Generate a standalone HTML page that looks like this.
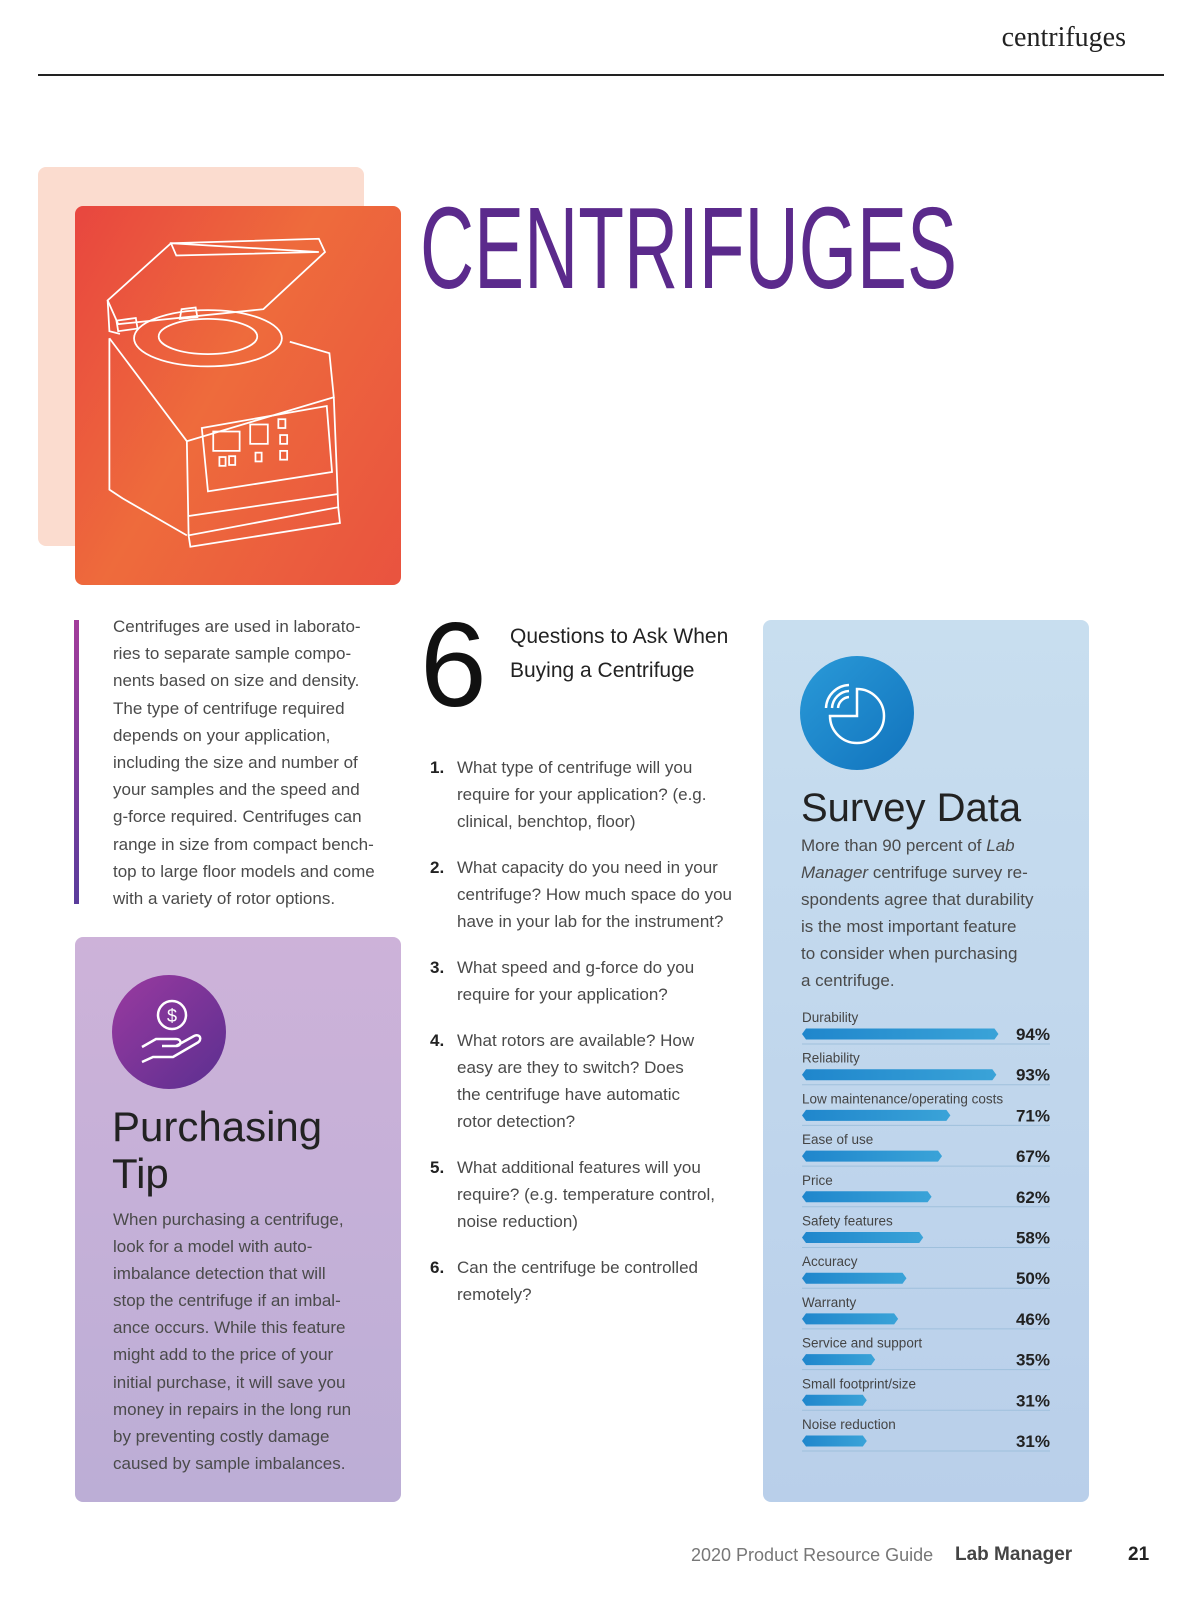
<!DOCTYPE html>
<html><head><meta charset="utf-8">
<style>
*{margin:0;padding:0;box-sizing:border-box}
body{width:1200px;height:1613px;position:relative;background:#fff;font-family:"Liberation Sans",sans-serif;color:#444;overflow:hidden}
.a{position:absolute}
.p{font-size:17px;line-height:27.2px;color:#4a4a4a;white-space:nowrap}
.q{font-size:17px;line-height:27px;color:#4a4a4a;white-space:nowrap}
.n{position:absolute;left:-27px;top:0;font-weight:bold;color:#222}
</style></head>
<body>
<div class="a" style="right:74px;top:22px;font-family:'Liberation Serif',serif;font-size:28px;color:#222">centrifuges</div>
<div class="a" style="left:38px;top:74px;width:1126px;height:2px;background:#222"></div>

<div class="a" style="left:38px;top:167px;width:326px;height:379px;background:#fbdccf;border-radius:8px"></div>
<div class="a" style="left:75px;top:206px;width:326px;height:379px;border-radius:8px;background:linear-gradient(120deg,#e8463f 0%,#ee6b3c 45%,#e9533f 100%);overflow:hidden">
<svg width="326" height="379" viewBox="0 0 326 379">
<g fill="none" stroke="#fff" stroke-width="2" transform="translate(8,2) scale(0.88)">
<polygon points="28,105 100,40 268,35 275,50 205,115 40,132"/>
<polygon points="100,40 106,54 268,50"/>
<polyline points="28,105 30,140 42,143"/>
<polygon points="40,140 38,128 60,125 62,137"/>
<polygon points="110,126 112,115 128,113 130,124"/>
<ellipse cx="142" cy="148" rx="84" ry="32"/>
<ellipse cx="142" cy="146" rx="56" ry="20"/>
<polyline points="30,148 118,265 285,215 280,165 235,152"/>
<polyline points="30,148 30,320 45,330 118,372"/>
<polyline points="118,265 120,372 290,340 285,215"/>
<polygon points="120,350 290,325"/>
<polyline points="120,372 122,385 292,358 290,340"/>
<polygon points="135,250 277,225 283,300 142,322"/>
<rect x="148" y="254" width="30" height="22"/>
<rect x="190" y="246" width="20" height="22"/>
<rect x="222" y="240" width="8" height="10"/>
<rect x="224" y="258" width="8" height="10"/>
<rect x="224" y="276" width="8" height="10"/>
<rect x="155" y="283" width="7" height="10"/><rect x="166" y="282" width="7" height="10"/>
<rect x="196" y="278" width="7" height="10"/>
</g></svg></div>

<svg class="a" style="left:415px;top:190px" width="560" height="120">
<text x="5" y="98" textLength="537" lengthAdjust="spacingAndGlyphs" font-family="Liberation Sans Narrow, Liberation Sans, sans-serif" font-size="116" fill="#5b2a8c">CENTRIFUGES</text></svg>

<div class="a" style="left:74px;top:620px;width:5px;height:284px;background:linear-gradient(#a33c9b,#5a3c9c)"></div>
<div class="a p" style="left:113px;top:613px">Centrifuges are used in laborato-<br>ries to separate sample compo-<br>nents based on size and density.<br>The type of centrifuge required<br>depends on your application,<br>including the size and number of<br>your samples and the speed and<br>g-force required. Centrifuges can<br>range in size from compact bench-<br>top to large floor models and come<br>with a variety of rotor options.</div>

<div class="a" style="left:75px;top:937px;width:326px;height:565px;border-radius:8px;background:linear-gradient(#cdb2d9,#bcaed6)"></div>
<div class="a" style="left:112px;top:975px;width:114px;height:114px;border-radius:50%;background:linear-gradient(135deg,#9a3aa0,#5b2f90)">
<svg width="114" height="114"><g fill="none" stroke="#fff" stroke-width="2.5"><circle cx="60" cy="40" r="14"/><path d="M30 72 l14-8 h20 c6 0 6 7 0 7 h-14 M64 71 l18-10 c6-3 9 4 3 7 l-24 14 h-20 l-11 5"/></g><text x="60" y="47" text-anchor="middle" font-size="18" fill="#fff" font-family="Liberation Sans">$</text></svg></div>
<div class="a" style="left:112px;top:1103px;font-size:42px;line-height:47px;color:#222">Purchasing<br>Tip</div>
<div class="a p" style="left:113px;top:1206px;line-height:27.1px">When purchasing a centrifuge,<br>look for a model with auto-<br>imbalance detection that will<br>stop the centrifuge if an imbal-<br>ance occurs. While this feature<br>might add to the price of your<br>initial purchase, it will save you<br>money in repairs in the long run<br>by preventing costly damage<br>caused by sample imbalances.</div>

<div class="a" style="left:420px;top:605px;font-size:120px;line-height:120px;color:#111">6</div>
<div class="a" style="left:510px;top:620px;font-size:21px;line-height:34px;color:#222">Questions to Ask When<br>Buying a Centrifuge</div>

<div class="a q" style="left:457px;top:754px"><span class="n">1.</span>What type of centrifuge will you<br>require for your application? (e.g.<br>clinical, benchtop, floor)</div>
<div class="a q" style="left:457px;top:854px"><span class="n">2.</span>What capacity do you need in your<br>centrifuge? How much space do you<br>have in your lab for the instrument?</div>
<div class="a q" style="left:457px;top:954px"><span class="n">3.</span>What speed and g-force do you<br>require for your application?</div>
<div class="a q" style="left:457px;top:1027px"><span class="n">4.</span>What rotors are available? How<br>easy are they to switch? Does<br>the centrifuge have automatic<br>rotor detection?</div>
<div class="a q" style="left:457px;top:1154px"><span class="n">5.</span>What additional features will you<br>require? (e.g. temperature control,<br>noise reduction)</div>
<div class="a q" style="left:457px;top:1254px"><span class="n">6.</span>Can the centrifuge be controlled<br>remotely?</div>

<div class="a" style="left:763px;top:620px;width:326px;height:882px;border-radius:8px;background:linear-gradient(#c8deef,#b9cfea)"></div>
<div class="a" style="left:800px;top:656px;width:114px;height:114px;border-radius:50%;background:linear-gradient(135deg,#2a9ad8,#1173bd)">
<svg width="114" height="114"><g fill="none" stroke="#fff" stroke-width="2.5"><path d="M57 33 A27 27 0 1 1 30 60 H57 Z"/><path d="M26 52 A24 24 0 0 1 49 29 M32 52 A18 18 0 0 1 49 35 M38 52 A12 12 0 0 1 49 41"/></g></svg></div>
<div class="a" style="left:801px;top:786px;font-size:40px;color:#222">Survey Data</div>
<div class="a p" style="left:801px;top:832px;line-height:27px">More than 90 percent of <i>Lab</i><br><i>Manager</i> centrifuge survey re-<br>spondents agree that durability<br>is the most important feature<br>to consider when purchasing<br>a centrifuge.</div>

<svg class="a" style="left:0;top:0" width="1200" height="1613" id="chart">
<defs><linearGradient id="bg" x1="0" x2="1"><stop offset="0" stop-color="#1f86cc"/><stop offset="1" stop-color="#3aa3d8"/></linearGradient></defs>
</svg>

<div class="a" style="left:691px;top:1545px;font-size:18px;color:#777;white-space:nowrap">2020 Product Resource Guide</div>
<div class="a" style="left:955px;top:1544px;font-size:19px;font-weight:bold;color:#444">Lab Manager</div>
<div class="a" style="left:1128px;top:1544px;font-size:19px;font-weight:bold;color:#222">21</div>

<script>
const categories=["Durability","Reliability","Low maintenance/operating costs","Ease of use","Price","Safety features","Accuracy","Warranty","Service and support","Small footprint/size","Noise reduction"];
const values=[94,93,71,67,62,58,50,46,35,31,31];
const ns="http://www.w3.org/2000/svg";
const svg=document.getElementById('chart');
const x0=802, pxPer=2.09, top0=1017, step=40.7;
function xs(v){return v*pxPer;}
function yRow(i){return top0+i*step;}
categories.forEach((c,i)=>{
  const y=yRow(i);
  const t=document.createElementNS(ns,'text');
  
  
  t.setAttribute('x',x0);t.setAttribute('y',y+5);t.setAttribute('font-size','13.5');t.setAttribute('fill','#444');t.setAttribute('font-family','Liberation Sans, sans-serif');
  t.textContent=c;svg.appendChild(t);
  const w=xs(values[i]), by=y+17, h=11;
  const p=document.createElementNS(ns,'polygon');
  
  
  p.setAttribute('points',`${x0+4},${by-h/2} ${x0+w-4},${by-h/2} ${x0+w},${by} ${x0+w-4},${by+h/2} ${x0+4},${by+h/2} ${x0},${by}`);
  p.setAttribute('fill','url(#bg)');svg.appendChild(p);
  const v=document.createElementNS(ns,'text');
  
  
  v.setAttribute('x',1050);v.setAttribute('y',by+6);v.setAttribute('text-anchor','end');v.setAttribute('font-size','17');v.setAttribute('font-weight','bold');v.setAttribute('fill','#222');v.setAttribute('font-family','Liberation Sans, sans-serif');
  v.textContent=values[i]+'%';svg.appendChild(v);
  const l=document.createElementNS(ns,'line');
  
  
  l.setAttribute('x1',x0);l.setAttribute('x2',1050);l.setAttribute('y1',y+27);l.setAttribute('y2',y+27);l.setAttribute('stroke','#9fc0dc');l.setAttribute('stroke-width','1');
  svg.appendChild(l);
});
</script>
</body></html>
